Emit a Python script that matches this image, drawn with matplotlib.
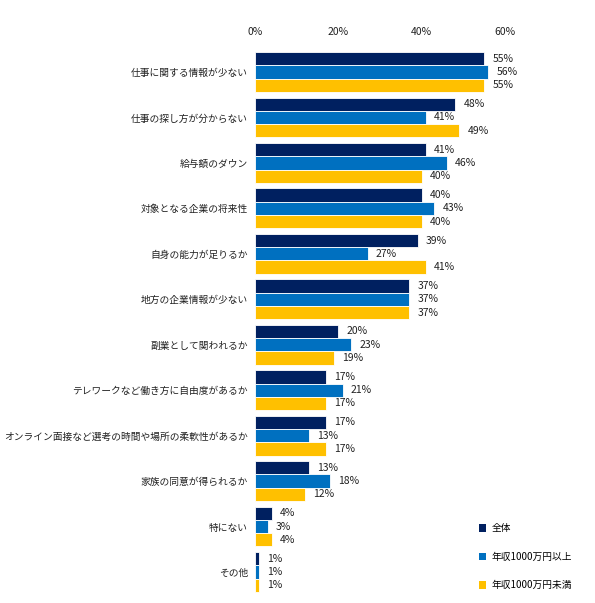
"""転職時の不安要素（年収別）の横棒グラフ。"""

import matplotlib

matplotlib.use("Agg")
import matplotlib.pyplot as plt
import numpy as np
from matplotlib.patches import Patch

plt.rcParams["font.family"] = ["Noto Sans CJK JP", "DejaVu Sans"]

categories = [
    "仕事に関する情報が少ない",
    "仕事の探し方が分からない",
    "給与額のダウン",
    "対象となる企業の将来性",
    "自身の能力が足りるか",
    "地方の企業情報が少ない",
    "副業として関われるか",
    "テレワークなど働き方に自由度があるか",
    "オンライン面接など選考の時間や場所の柔軟性があるか",
    "家族の同意が得られるか",
    "特にない",
    "その他",
]
series_names = ["全体", "年収1000万円以上", "年収1000万円未満"]
all_vals = [55, 48, 41, 40, 39, 37, 20, 17, 17, 13, 4, 1]
high_vals = [56, 41, 46, 43, 27, 37, 23, 21, 13, 18, 3, 1]
low_vals = [55, 49, 40, 40, 41, 37, 19, 17, 17, 12, 4, 1]
x_ticks = [0, 20, 40, 60]

colors = ["#002060", "#0070C0", "#FFC000"]


def main() -> None:
    fig = plt.figure(figsize=(5.95, 6.03), dpi=100)
    ax = fig.add_axes([0.4286, 0.0138, 0.4202, 0.9044])

    y = np.arange(len(categories))
    h = 0.293
    for k, vals in enumerate([all_vals, high_vals, low_vals]):
        pos = y + (k - 1) * h
        ax.barh(pos, vals, height=h, color=colors[k], edgecolor="white",
                linewidth=0.6, label=series_names[k])
        for p, v in zip(pos, vals):
            ax.annotate(f"{v}%", (v, p), xytext=(6, 0), textcoords="offset points",
                        va="center", ha="left", fontsize=7.5, color="#222222")

    ax.set_xlim(0, 60)
    ax.set_ylim(len(categories) - 0.5, -0.5)
    ax.set_xticks(x_ticks)
    ax.set_xticklabels([f"{t}%" for t in x_ticks])
    ax.xaxis.tick_top()
    ax.set_yticks(y)
    ax.set_yticklabels(categories)
    ax.tick_params(axis="x", length=0, pad=9, labelsize=7.5, colors="#222222")
    ax.tick_params(axis="y", length=0, pad=5, labelsize=7, colors="#222222")
    for s in ax.spines.values():
        s.set_visible(False)

    handles = [Patch(facecolor=c, edgecolor="none") for c in colors]
    fig.legend(handles, series_names, loc="upper left",
               bbox_to_anchor=(0.797, 0.14), frameon=False, fontsize=7,
               handlelength=0.75, handleheight=0.75, handletextpad=0.5,
               labelspacing=1.9, borderpad=0)

    fig.savefig("out.png")


if __name__ == "__main__":
    main()
